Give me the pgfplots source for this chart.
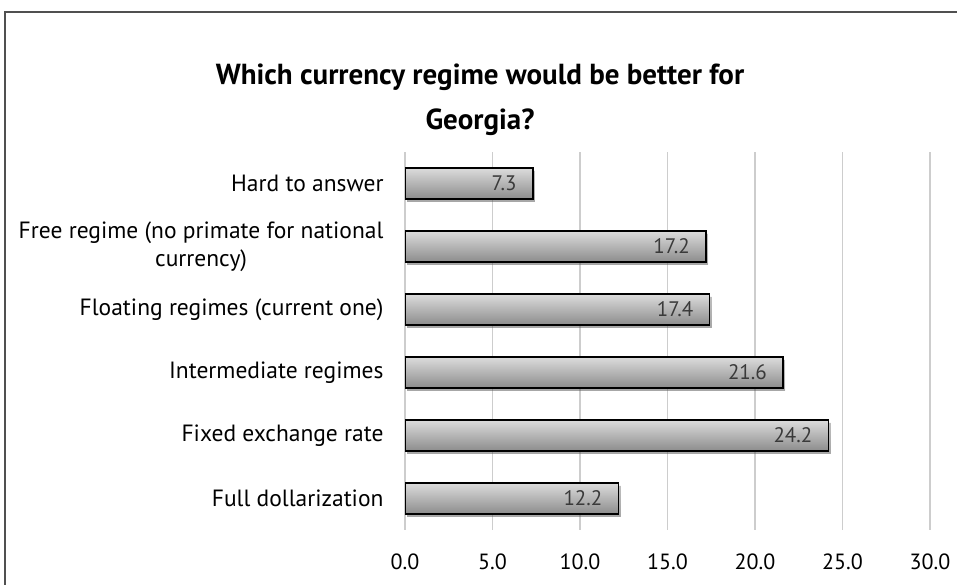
\documentclass[border=0pt]{standalone}
\usepackage{pgfplots}
\pgfplotsset{compat=1.18}
\usepackage{fontspec}
\setmainfont{PT Sans}
\usetikzlibrary{shadows}
\definecolor{bartop}{RGB}{220,220,220}
\definecolor{barbot}{RGB}{140,140,140}
\definecolor{gridc}{RGB}{205,205,205}
\definecolor{framec}{RGB}{80,80,80}
\definecolor{valc}{RGB}{58,58,58}
\begin{document}
\begin{tikzpicture}[x=1pt,y=1pt]
\useasboundingbox (0,0) rectangle (957,585);
\clip (0,0) rectangle (957,585);
\draw[framec, line width=1.2pt] (5,-20) rectangle (990,573);
\node[align=center, font=\fontsize{29}{45}\selectfont\bfseries] at (480,485) {Which currency regime would be better for\\Georgia?};
\begin{axis}[
  at={(405pt,55pt)}, anchor=south west,
  width=525pt, height=378pt, scale only axis,
  xmin=0, xmax=30, ymin=-0.5, ymax=5.5,
  xbar, bar width=31pt, bar shift=0pt,
  axis line style={draw=none},
  xtick={0,5,10,15,20,25,30},
  xticklabel style={/pgf/number format/fixed, /pgf/number format/fixed zerofill, /pgf/number format/precision=1},
  /pgf/number format/assume math mode=true,
  xmajorgrids, grid style={gridc, line width=1.3pt},
  major tick length=0pt,
  ytick={0,1,2,3,4,5},
  yticklabels={Full dollarization, Fixed exchange rate, Intermediate regimes, {Floating regimes (current one)}, {Free regime (no primate for national\\currency)}, Hard to answer},
  yticklabel style={align=center, font=\fontsize{23.5}{28}\selectfont, xshift=-18pt},
  xticklabel style={font=\fontsize{22}{24}\selectfont, yshift=-20pt},
  nodes near coords,
  nodes near coords style={anchor=east, xshift=-12pt, font=\fontsize{21}{24}\selectfont, text=valc, /pgf/number format/fixed, /pgf/number format/fixed zerofill, /pgf/number format/precision=1},
  every node near coord/.append style={/pgf/number format/assume math mode=true},
  bstyle/.style={draw=black, line width=1.6pt, top color=bartop, bottom color=barbot, drop shadow={shadow xshift=2pt, shadow yshift=-3pt, draw=none, fill=black, opacity=0.3}},
]
\addplot[bstyle] coordinates {(12.2,0)};
\addplot[bstyle] coordinates {(24.2,1)};
\addplot[bstyle] coordinates {(21.6,2)};
\addplot[bstyle] coordinates {(17.4,3)};
\addplot[bstyle] coordinates {(17.2,4)};
\addplot[bstyle] coordinates {(7.3,5)};
\end{axis}
\end{tikzpicture}
\end{document}
